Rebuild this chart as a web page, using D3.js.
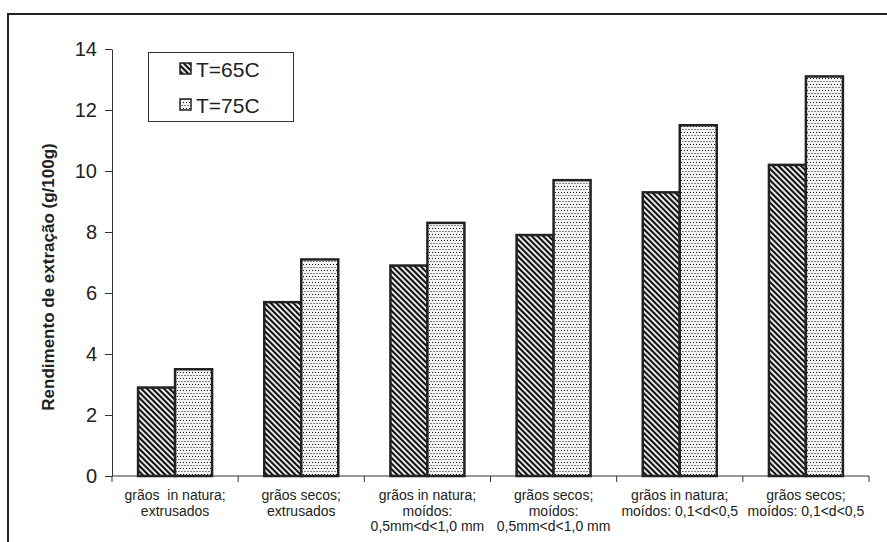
<!DOCTYPE html>
<html><head><meta charset="utf-8">
<script src="https://cdn.jsdelivr.net/npm/d3@7"></script>
<style>body{margin:0;background:#fff}svg{display:block}text{font-family:"Liberation Sans",Arial,sans-serif;fill:#222;white-space:pre}</style>
</head><body>
<script>
const categories = [
  ["grãos  in natura;", "extrusados"],
  ["grãos secos;", "extrusados"],
  ["grãos in natura;", "moídos:", "0,5mm<d<1,0 mm"],
  ["grãos secos;", "moídos:", "0,5mm<d<1,0 mm"],
  ["grãos in natura;", "moídos: 0,1<d<0,5"],
  ["grãos secos;", "moídos: 0,1<d<0,5"]
];
const seriesNames = ["T=65C", "T=75C"];
const t65 = [2.9, 5.7, 6.9, 7.9, 9.3, 10.2];
const t75 = [3.5, 7.1, 8.3, 9.7, 11.5, 13.1];
const yTicks = [0, 2, 4, 6, 8, 10, 12, 14];
const yLabel = "Rendimento de extração (g/100g)";

const W = 887, H = 542;
const svg = d3.select("body").append("svg").attr("width", W).attr("height", H);
const defs = svg.append("defs");
const hatch = defs.append("pattern").attr("id", "hatch").attr("patternUnits", "userSpaceOnUse")
  .attr("width", 4).attr("height", 4).attr("patternTransform", "rotate(-45)");
hatch.append("rect").attr("width", 4).attr("height", 4).attr("fill", "#fff");
hatch.append("rect").attr("width", 2.2).attr("height", 4).attr("fill", "#111");
const dots = defs.append("pattern").attr("id", "dots").attr("patternUnits", "userSpaceOnUse")
  .attr("width", 6).attr("height", 6);
dots.append("rect").attr("width", 6).attr("height", 6).attr("fill", "#f4f4f4");
[[0,0],[3,0],[1.5,3],[4.5,3]].forEach(([x,y]) => dots.append("rect").attr("x", x).attr("y", y).attr("width", 1).attr("height", 1).attr("fill", "#111"));

// outer frame
svg.append("path").attr("d", `M8,${H}V14H${W}`).attr("fill", "none").attr("stroke", "#222").attr("stroke-width", 2);

const x0 = 112, x1 = 869, yTop = 49, yBot = 476;
const x = d3.scaleBand().domain(d3.range(categories.length)).range([x0, x1]).paddingInner(0).paddingOuter(0);
const y = d3.scaleLinear().domain([0, 14]).range([yBot, yTop]);

// y axis
const ya = svg.append("g").attr("transform", `translate(${x0},0)`)
  .call(d3.axisLeft(y).tickValues(yTicks).tickSize(7).tickSizeOuter(0).tickPadding(8).tickFormat(d3.format("d")));
ya.select(".domain").attr("stroke", "#333");
ya.selectAll(".tick line").attr("stroke", "#333");
ya.selectAll("text").attr("font-size", 20).attr("font-family", "Liberation Sans, Arial").attr("fill", "#222");

// x axis line and ticks
svg.append("line").attr("x1", x0).attr("x2", x1).attr("y1", yBot).attr("y2", yBot).attr("stroke", "#333");
const bounds = d3.range(categories.length + 1).map(i => i < categories.length ? x(i) : x1);
svg.selectAll(".xt").data(bounds).join("line").attr("class", "xt")
  .attr("x1", d => d).attr("x2", d => d).attr("y1", yBot).attr("y2", yBot + 6).attr("stroke", "#333");

// bars
const bw = 37;
const bars = svg.append("g");
categories.forEach((c, i) => {
  const cx = x(i) + x.bandwidth() / 2;
  [[t65[i], "url(#hatch)", cx - bw], [t75[i], "url(#dots)", cx]].forEach(([v, f, bx]) => {
    bars.append("rect").attr("x", bx).attr("y", y(v)).attr("width", bw).attr("height", yBot - y(v))
      .attr("fill", f).attr("stroke", "#222").attr("stroke-width", 2.5);
  });
});

// x labels
categories.forEach((lines, i) => {
  const t = svg.append("text").attr("text-anchor", "middle").attr("font-size", 14)
    .attr("transform", `translate(${x(i) + x.bandwidth() / 2},0)`);
  lines.forEach((l, j) => t.append("tspan").attr("x", 0).attr("y", 500 + j * 15.5).text(l));
});

// y label
svg.append("text").attr("transform", "translate(54,277) rotate(-90)").attr("text-anchor", "middle")
  .attr("font-size", 17).attr("font-weight", "bold").text(yLabel);

// legend
const lg = svg.append("g");
lg.append("rect").attr("x", 148.5).attr("y", 52.5).attr("width", 145).attr("height", 69)
  .attr("fill", "#fff").attr("stroke", "#333").attr("stroke-width", 1);
[["url(#hatch)", 63], ["url(#dots)", 99]].forEach(([f, yy], k) => {
  lg.append("rect").attr("x", 180).attr("y", yy).attr("width", 11).attr("height", 11)
    .attr("fill", f).attr("stroke", "#222").attr("stroke-width", 1.5);
  lg.append("text").attr("x", 196).attr("y", yy + 14).attr("font-size", 21).text(seriesNames[k]);
});
</script>
</body></html>
